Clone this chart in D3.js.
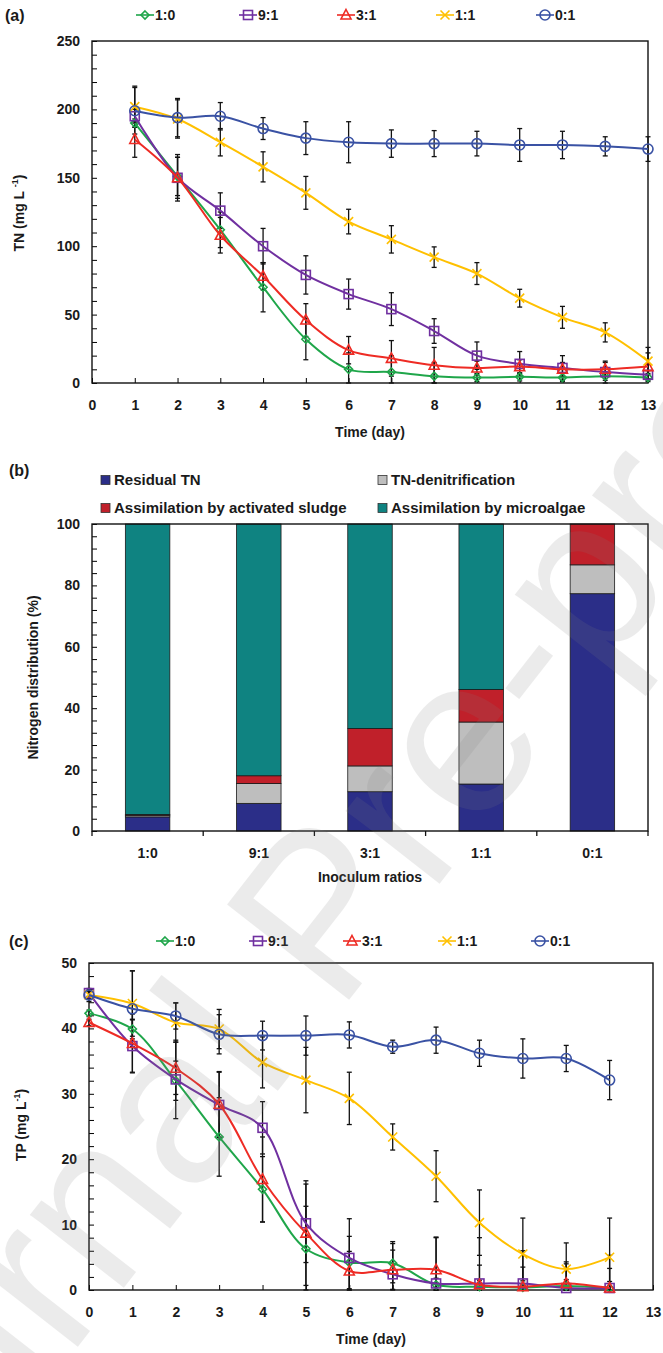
<!DOCTYPE html>
<html>
<head>
<meta charset="utf-8">
<script src="https://cdn.jsdelivr.net/npm/d3@7"></script>
<style>
  body { margin: 0; background: #fff; }
  svg text { font-family: "Liberation Sans", Arial, sans-serif; font-weight: bold; fill: #1a1a1a; }
</style>
</head>
<body>
<div id="chart"></div>
<script>
// ---- data ------------------------------------------------------------
var seriesNames = ["1:0", "9:1", "3:1", "1:1", "0:1"];

// (a) TN, days 1..13
var tnDays = [1, 2, 3, 4, 5, 6, 7, 8, 9, 10, 11, 12, 13];
var tn10 = [190, 151, 112, 70, 32, 10, 8, 5, 4, 4.5, 4, 5, 4];
var tn91 = [195, 150, 126, 100, 79, 65, 54, 38, 20, 14, 11, 8, 6];
var tn31 = [178, 150, 108, 78, 46, 24, 18, 13, 11, 12, 10, 10, 12];
var tn11 = [202, 193, 176, 158, 139, 118, 105, 92, 80, 62, 48, 37, 16];
var tn01 = [199, 194, 195, 186, 179, 176, 175, 175, 175, 174, 174, 173, 171];
var tn10Err = [3, 14, 13, 18, 15, 12, 12, 10, 3, 3, 3, 3, 3];
var tn91Err = [5, 17, 13, 13, 14, 11, 12, 9, 10, 9, 9, 8, 3];
var tn31Err = [13, 15, 13, 10, 12, 10, 13, 13, 5, 5, 5, 5, 10];
var tn11Err = [15, 14, 10, 11, 12, 9, 10, 7.5, 8, 6.5, 8, 7, 10];
var tn01Err = [17, 14, 10, 8, 12, 15, 10, 9.5, 9, 12, 10, 7, 9];

// (b) nitrogen distribution (%)
var ratios = ["1:0", "9:1", "3:1", "1:1", "0:1"];
var fates = ["Residual TN", "TN-denitrification", "Assimilation by activated sludge", "Assimilation by microalgae"];
var residualTN = [4.6, 9.0, 12.8, 15.3, 77.3];
var denitrification = [0.5, 6.5, 8.4, 20.2, 9.4];
var sludgeUptake = [0.3, 2.5, 12.2, 10.6, 13.3];
var algaeUptake = [94.6, 82.0, 66.6, 53.9, 0];

// (c) TP, days 0..12
var tpDays = [0, 1, 2, 3, 4, 5, 6, 7, 8, 9, 10, 11, 12];
var tp10 = [42.3, 39.9, 32.0, 23.4, 15.4, 6.3, 4.2, 4.1, 0.8, 0.5, 0.4, 0.6, 0.3];
var tp91 = [45.4, 37.3, 32.2, 28.3, 24.8, 10.2, 4.9, 2.4, 1.0, 1.0, 1.0, 0.3, 0.3];
var tp31 = [40.9, 37.7, 33.9, 28.4, 16.9, 8.7, 2.9, 3.1, 3.1, 0.8, 0.5, 1.0, 0.3];
var tp11 = [45.1, 43.8, 40.9, 39.9, 34.8, 32.1, 29.3, 23.4, 17.4, 10.3, 5.5, 3.2, 5.0];
var tp01 = [45.1, 43.0, 41.9, 39.1, 38.9, 38.9, 39.0, 37.2, 38.2, 36.2, 35.4, 35.4, 32.1];
var tp10Err = [0.5, 1.5, 3, 6, 5, 6.5, 4, 3, 1, 1, 1, 1, 1];
var tp91Err = [0.5, 4, 6, 5, 4, 6, 6, 5, 7, 7, 5, 4, 5];
var tp31Err = [0.5, 4.5, 4, 5, 6.5, 8, 3, 3, 5, 3, 3, 3, 3];
var tp11Err = [0.5, 5, 3, 3, 3.9, 5, 4, 2, 3.9, 5, 5.5, 4, 6];
var tp01Err = [1, 5.8, 2, 3, 2.2, 3, 2, 1, 2, 2, 3, 2, 3];

// ---- styles ----------------------------------------------------------
var seriesColors = ["#1FA64A", "#7030A0", "#EE2B24", "#FFC000", "#3A52A4"];
var seriesMarkers = ["diamond", "square", "triangle", "cross", "circle"];
var fateColors = ["#2B2E88", "#BEBEBE", "#C0202A", "#0F8381"];

var width = 663, height = 1353;
var svg = d3.select("#chart").append("svg")
  .attr("width", width)
  .attr("height", height)
  .style("background", "white");

// draw a marker centred at 0,0
function marker(g, type, color) {
  if (type === "diamond") {
    g.append("path").attr("d", "M0,-4L4,0L0,4L-4,0Z");
  } else if (type === "square") {
    g.append("rect").attr("x", -4.5).attr("y", -4.5).attr("width", 9).attr("height", 9);
  } else if (type === "triangle") {
    g.append("path").attr("d", "M0,-5.5L5,4L-5,4Z");
  } else if (type === "cross") {
    g.append("path").attr("d", "M-4.5,-4.5L4.5,4.5M-4.5,4.5L4.5,-4.5");
  } else {
    g.append("circle").attr("r", 5);
  }
  g.selectAll("*").attr("fill", "none").attr("stroke", color).attr("stroke-width", 1.6);
}

function lineLegend(y, xs) {
  seriesNames.forEach(function(name, i) {
    var g = svg.append("g").attr("transform", `translate(${xs[i]},${y})`);
    g.append("line").attr("x1", -9).attr("x2", 9)
      .attr("stroke", seriesColors[i]).attr("stroke-width", 1.8);
    marker(g, seriesMarkers[i], seriesColors[i]);
    g.append("text").attr("x", 10).attr("dy", "0.36em")
      .attr("font-size", 14).text(name);
  });
}

// line chart with error bars (panels a and c)
function linePanel(opt) {
  var x = d3.scaleLinear().domain([0, 13]).range([opt.left, opt.right]);
  var y = d3.scaleLinear().domain([0, opt.yMax]).range([opt.bottom, opt.top]);

  svg.append("g")
    .attr("transform", `translate(0,${opt.bottom})`)
    .call(d3.axisBottom(x).tickValues(d3.range(0, 14)).tickSize(-5).tickPadding(17))
    .call(g => g.select(".domain").remove())
    .call(g => g.selectAll("text").attr("font-size", 14));

  svg.append("g")
    .attr("transform", `translate(${opt.left},0)`)
    .call(d3.axisLeft(y).tickValues(d3.range(0, opt.yMax + 0.01, opt.minor)).tickSize(-5).tickPadding(12)
      .tickFormat(d => (Math.abs(d % opt.major) < 1e-6 ? d : "")))
    .call(g => g.select(".domain").remove())
    .call(g => g.selectAll("text").attr("font-size", 14));

  svg.append("rect")
    .attr("x", opt.left).attr("y", opt.top)
    .attr("width", opt.right - opt.left).attr("height", opt.bottom - opt.top)
    .attr("fill", "none").attr("stroke", "#111").attr("stroke-width", 1.4);

  var line = d3.line()
    .x(d => x(d.day))
    .y(d => y(d.v))
    .curve(d3.curveCatmullRom.alpha(0.5));

  var series = opt.values.map(function(vals, i) {
    return vals.map((v, j) => ({ day: opt.days[j], v: v, e: opt.errors[i][j] }));
  });

  // error bars
  series.forEach(function(pts) {
    var eb = svg.append("g").attr("stroke", "#111").attr("stroke-width", 1.3);
    pts.forEach(function(p) {
      var lo = y(Math.max(0, p.v - p.e)), hi = y(p.v + p.e), cx = x(p.day);
      eb.append("line").attr("x1", cx).attr("x2", cx).attr("y1", lo).attr("y2", hi);
      eb.append("line").attr("x1", cx - 2.5).attr("x2", cx + 2.5).attr("y1", lo).attr("y2", lo);
      eb.append("line").attr("x1", cx - 2.5).attr("x2", cx + 2.5).attr("y1", hi).attr("y2", hi);
    });
  });

  // lines + markers
  series.forEach(function(pts, i) {
    svg.append("path").datum(pts)
      .attr("d", line)
      .attr("fill", "none")
      .attr("stroke", seriesColors[i])
      .attr("stroke-width", 2);
    pts.forEach(function(p) {
      var g = svg.append("g").attr("transform", `translate(${x(p.day)},${y(p.v)})`);
      marker(g, seriesMarkers[i], seriesColors[i]);
    });
  });

  svg.append("text")
    .attr("x", (opt.left + opt.right) / 2).attr("y", opt.bottom + 54)
    .attr("text-anchor", "middle").attr("font-size", 14)
    .text("Time (day)");
}

// ---- (a) -------------------------------------------------------------
svg.append("text").attr("x", 5).attr("y", 21).attr("font-size", 16).text("(a)");
lineLegend(15, [145, 248, 346, 445, 545]);

linePanel({
  left: 92, right: 648, top: 41, bottom: 383,
  yMax: 250, minor: 10, major: 50,
  days: tnDays,
  values: [tn10, tn91, tn31, tn11, tn01],
  errors: [tn10Err, tn91Err, tn31Err, tn11Err, tn01Err]
});

var tnTitle = svg.append("text")
  .attr("transform", "translate(24,213)rotate(-90)")
  .attr("text-anchor", "middle").attr("font-size", 14);
tnTitle.append("tspan").text("TN (mg L ");
tnTitle.append("tspan").attr("font-size", 9).attr("dy", -6).text("-1");
tnTitle.append("tspan").attr("dy", 6).text(")");

// ---- (b) -------------------------------------------------------------
svg.append("text").attr("x", 9).attr("y", 476).attr("font-size", 16).text("(b)");

var bLeft = 92, bRight = 648, bTop = 524, bBottom = 831;
var xb = d3.scaleBand().domain(ratios).range([bLeft, bRight]).paddingInner(0.6).paddingOuter(0.3);
var yb = d3.scaleLinear().domain([0, 100]).range([bBottom, bTop]);

var table = ratios.map((r, i) => ({
  ratio: r,
  "Residual TN": residualTN[i],
  "TN-denitrification": denitrification[i],
  "Assimilation by activated sludge": sludgeUptake[i],
  "Assimilation by microalgae": algaeUptake[i]
}));
var stacked = d3.stack().keys(fates)(table);

svg.append("g")
  .selectAll("g")
  .data(stacked)
  .join("g")
  .attr("fill", (d, i) => fateColors[i])
  .selectAll("rect")
  .data(d => d)
  .join("rect")
  .attr("x", d => xb(d.data.ratio))
  .attr("y", d => yb(d[1]))
  .attr("width", xb.bandwidth())
  .attr("height", d => yb(d[0]) - yb(d[1]))
  .attr("stroke", "#1a1a1a")
  .attr("stroke-width", 0.8);

svg.append("g")
  .attr("transform", `translate(${bLeft},0)`)
  .call(d3.axisLeft(yb).tickValues(d3.range(0, 101, 4)).tickSize(-5).tickPadding(12)
    .tickFormat(d => (d % 20 === 0 ? d : "")))
  .call(g => g.select(".domain").remove())
  .call(g => g.selectAll("text").attr("font-size", 14));

svg.append("g")
  .attr("transform", `translate(0,${bBottom})`)
  .call(d3.axisBottom(xb).tickSize(0).tickPadding(17))
  .call(g => g.select(".domain").remove())
  .call(g => g.selectAll("text").attr("font-size", 14));

// category separators below the axis
svg.append("g").selectAll("line")
  .data(d3.range(0, ratios.length + 1))
  .join("line")
  .attr("x1", i => bLeft + i * xb.step())
  .attr("x2", i => bLeft + i * xb.step())
  .attr("y1", bBottom).attr("y2", bBottom + 5)
  .attr("stroke", "#111").attr("stroke-width", 1.3);

svg.append("rect")
  .attr("x", bLeft).attr("y", bTop)
  .attr("width", bRight - bLeft).attr("height", bBottom - bTop)
  .attr("fill", "none").attr("stroke", "#111").attr("stroke-width", 1.4);

svg.append("text")
  .attr("x", (bLeft + bRight) / 2).attr("y", bBottom + 51)
  .attr("text-anchor", "middle").attr("font-size", 14)
  .text("Inoculum ratios");

svg.append("text")
  .attr("transform", `translate(38,${(bTop + bBottom) / 2})rotate(-90)`)
  .attr("text-anchor", "middle").attr("font-size", 14)
  .text("Nitrogen distribution (%)");

// legend for (b)
var legPos = [[101, 480], [378, 480], [101, 508], [378, 508]];
fates.forEach(function(f, i) {
  var g = svg.append("g").attr("transform", `translate(${legPos[i][0]},${legPos[i][1]})`);
  g.append("rect").attr("x", 0).attr("y", -4.5).attr("width", 9).attr("height", 9)
    .attr("fill", fateColors[i]).attr("stroke", "#333").attr("stroke-width", 0.8);
  g.append("text").attr("x", 13).attr("dy", "0.36em").attr("font-size", 15).text(f);
});

// ---- (c) -------------------------------------------------------------
svg.append("text").attr("x", 9).attr("y", 947).attr("font-size", 16).text("(c)");
lineLegend(941, [165, 258, 352, 447, 540]);

linePanel({
  left: 89, right: 653, top: 963, bottom: 1290,
  yMax: 50, minor: 2, major: 10,
  days: tpDays,
  values: [tp10, tp91, tp31, tp11, tp01],
  errors: [tp10Err, tp91Err, tp31Err, tp11Err, tp01Err]
});

var tpTitle = svg.append("text")
  .attr("transform", "translate(26,1125)rotate(-90)")
  .attr("text-anchor", "middle").attr("font-size", 14);
tpTitle.append("tspan").text("TP  (mg L");
tpTitle.append("tspan").attr("font-size", 9).attr("dy", -6).text("-1");
tpTitle.append("tspan").attr("dy", 6).text(")");

// ---- watermark -------------------------------------------------------
svg.append("text")
  .attr("transform", "translate(380,960)rotate(-52)")
  .attr("text-anchor", "middle")
  .attr("font-size", 225)
  .style("font-weight", "normal")
  .style("fill", "#808080")
  .style("opacity", 0.15)
  .text("Journal Pre-proof");
</script>
</body>
</html>
